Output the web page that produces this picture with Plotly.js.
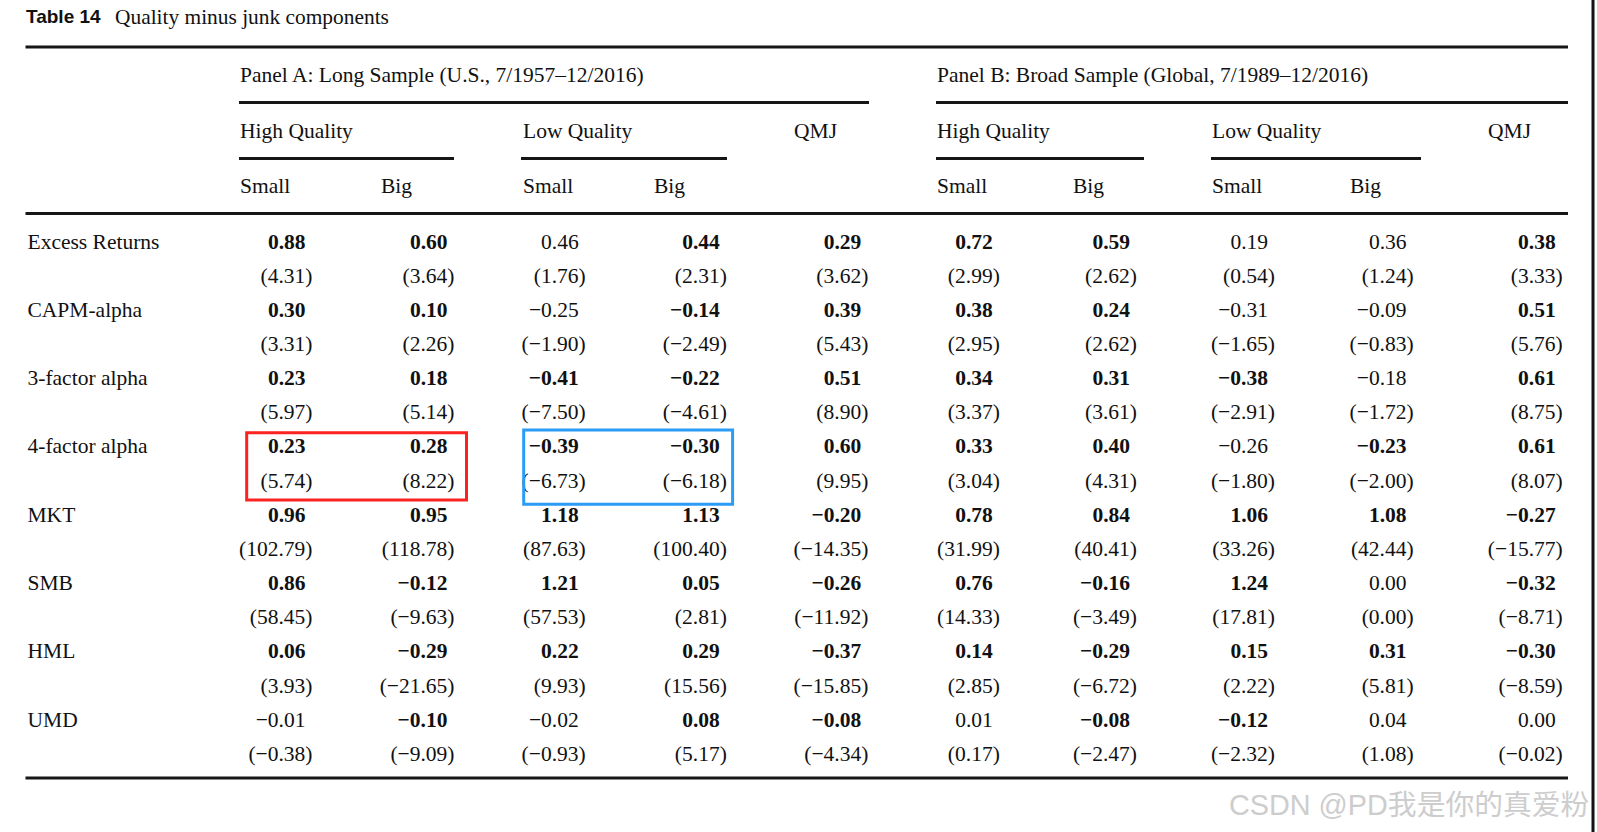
<!DOCTYPE html>
<html><head><meta charset="utf-8">
<script src="https://cdn.plot.ly/plotly-3.0.1.min.js"></script>
<style>html,body{margin:0;padding:0;background:#fff;overflow:hidden}</style>
</head><body><div id="chart" style="width:1597px;height:832px"></div>
<script>
// ---------- data ----------
const rowLabels = ['Excess Returns','CAPM-alpha','3-factor alpha','4-factor alpha','MKT','SMB','HML','UMD'];
const panelTitles = ['Panel A: Long Sample (U.S., 7/1957\u201312/2016)','Panel B: Broad Sample (Global, 7/1989\u201312/2016)'];
const groupLabels = ['High Quality','Low Quality','QMJ','High Quality','Low Quality','QMJ'];
const sizeLabels = ['Small','Big','Small','Big','Small','Big','Small','Big'];

const excessReturns  = [0.88,0.60,0.46,0.44,0.29,0.72,0.59,0.19,0.36,0.38];
const excessReturnsT = [4.31,3.64,1.76,2.31,3.62,2.99,2.62,0.54,1.24,3.33];
const capmAlpha      = [0.30,0.10,-0.25,-0.14,0.39,0.38,0.24,-0.31,-0.09,0.51];
const capmAlphaT     = [3.31,2.26,-1.90,-2.49,5.43,2.95,2.62,-1.65,-0.83,5.76];
const ff3Alpha       = [0.23,0.18,-0.41,-0.22,0.51,0.34,0.31,-0.38,-0.18,0.61];
const ff3AlphaT      = [5.97,5.14,-7.50,-4.61,8.90,3.37,3.61,-2.91,-1.72,8.75];
const ff4Alpha       = [0.23,0.28,-0.39,-0.30,0.60,0.33,0.40,-0.26,-0.23,0.61];
const ff4AlphaT      = [5.74,8.22,-6.73,-6.18,9.95,3.04,4.31,-1.80,-2.00,8.07];
const mktBeta        = [0.96,0.95,1.18,1.13,-0.20,0.78,0.84,1.06,1.08,-0.27];
const mktBetaT       = [102.79,118.78,87.63,100.40,-14.35,31.99,40.41,33.26,42.44,-15.77];
const smbBeta        = [0.86,-0.12,1.21,0.05,-0.26,0.76,-0.16,1.24,0.00,-0.32];
const smbBetaT       = [58.45,-9.63,57.53,2.81,-11.92,14.33,-3.49,17.81,0.00,-8.71];
const hmlBeta        = [0.06,-0.29,0.22,0.29,-0.37,0.14,-0.29,0.15,0.31,-0.30];
const hmlBetaT       = [3.93,-21.65,9.93,15.56,-15.85,2.85,-6.72,2.22,5.81,-8.59];
const umdBeta        = [-0.01,-0.10,-0.02,0.08,-0.08,0.01,-0.08,-0.12,0.04,0.00];
const umdBetaT       = [-0.38,-9.09,-0.93,5.17,-4.34,0.17,-2.47,-2.32,1.08,-0.02];

const coefRows = [excessReturns,capmAlpha,ff3Alpha,ff4Alpha,mktBeta,smbBeta,hmlBeta,umdBeta];
const tRows    = [excessReturnsT,capmAlphaT,ff3AlphaT,ff4AlphaT,mktBetaT,smbBetaT,hmlBetaT,umdBetaT];

// ---------- layout constants ----------
const W = 1597, H = 832;
const colRight = [312.5,454.5,585.7,726.8,868.3,999.8,1137,1275,1413.6,1562.7];
const parenW = 7;          // width of ")" so coefficients align on the decimal
const rowY0 = 243.2, rowH = 34.15;
const labelX = 27.5;
const serif = 'Liberation Serif, Times New Roman, serif';
const FS = 21.5;

function fmt(v){ return (v < 0 ? '\u2212' : '') + Math.abs(v).toFixed(2); }

const cx=[], cy=[], ct=[], tx=[], ty=[], tt=[];
coefRows.forEach((row, r) => {
  row.forEach((v, c) => {
    const sig = Math.abs(tRows[r][c]) >= 1.96;
    cx.push(colRight[c] - parenW); cy.push(rowY0 + 2*r*rowH);
    ct.push(sig ? '<b>' + fmt(v) + '</b>' : fmt(v));
    tx.push(colRight[c]); ty.push(rowY0 + (2*r+1)*rowH);
    tt.push('(' + fmt(tRows[r][c]) + ')');
  });
});

const traces = [
  {type:'scatter', mode:'text', x:cx, y:cy, text:ct, textposition:'middle left',
   textfont:{family:serif, size:FS, color:'#111'}, marker:{size:0}, hoverinfo:'skip', showlegend:false, cliponaxis:false},
  {type:'scatter', mode:'text', x:tx, y:ty, text:tt, textposition:'middle left',
   textfont:{family:serif, size:FS, color:'#111'}, marker:{size:0}, hoverinfo:'skip', showlegend:false, cliponaxis:false},
  {type:'scatter', mode:'text', x:rowLabels.map(()=>labelX), y:rowLabels.map((_, r)=>rowY0 + 2*r*rowH),
   text:rowLabels, textposition:'middle right',
   textfont:{family:serif, size:FS, color:'#111'}, marker:{size:0}, hoverinfo:'skip', showlegend:false, cliponaxis:false}
];

function hline(x0, x1, y, w){ return {type:'line', xref:'x', yref:'y', x0:x0, x1:x1, y0:y, y1:y, line:{color:'#161616', width:w||3}}; }
const shapes = [
  hline(25.5, 1568, 47),
  hline(239, 869, 102.5), hline(936, 1568, 102.5),
  hline(239, 454, 158.5), hline(521, 727, 158.5), hline(936, 1144, 158.5), hline(1211, 1421, 158.5),
  hline(25.5, 1568, 213.5),
  hline(25.5, 1568, 778),
  {type:'line', xref:'x', yref:'y', x0:1593, x1:1593, y0:0, y1:H, line:{color:'#111', width:3}},
  {type:'rect', xref:'x', yref:'y', x0:246.7, x1:466.5, y0:432.7, y1:500, line:{color:'#fb2222', width:3}},
  {type:'rect', xref:'x', yref:'y', x0:523.7, x1:732.6, y0:430, y1:504.3, line:{color:'#2a9cf5', width:3}}
];

function ann(text, x, y, opts){
  return Object.assign({text:text, x:x, y:y, xref:'x', yref:'y', xanchor:'left', yanchor:'middle', showarrow:false,
    font:{family:serif, size:FS, color:'#111'}}, opts||{});
}
const annotations = [
  ann('<b>Table 14</b>', 24, 16, {font:{family:'Liberation Sans, Arial, sans-serif', size:19, color:'#111'}}),
  ann('Quality minus junk components', 113, 16.5, {font:{family:serif, size:21.4, color:'#111'}}),
  ann(panelTitles[0], 238, 75), ann(panelTitles[1], 935, 75),
  ann(groupLabels[0], 238, 131), ann(groupLabels[1], 520.5, 131), ann(groupLabels[2], 792, 131),
  ann(groupLabels[3], 935, 131), ann(groupLabels[4], 1210, 131), ann(groupLabels[5], 1486, 131),
  ann(sizeLabels[0], 238, 186), ann(sizeLabels[1], 379, 186), ann(sizeLabels[2], 520.5, 186), ann(sizeLabels[3], 652, 186),
  ann(sizeLabels[4], 935, 186), ann(sizeLabels[5], 1071, 186), ann(sizeLabels[6], 1210, 186), ann(sizeLabels[7], 1348, 186),
  ann('CSDN @PD我是你的真爱粉', 1227, 805, {font:{family:'Liberation Sans, Noto Sans CJK SC, sans-serif', size:28.8, color:'#cdcdcd'}})
];

const layout = {
  width: W, height: H, margin:{l:0, r:0, t:0, b:0},
  paper_bgcolor:'#fff', plot_bgcolor:'#fff',
  xaxis:{range:[0, W], visible:false, fixedrange:true},
  yaxis:{range:[H, 0], visible:false, fixedrange:true},
  shapes: shapes, annotations: annotations, showlegend:false
};
Plotly.newPlot('chart', traces, layout, {staticPlot:true, displayModeBar:false});
</script>
</body></html>
